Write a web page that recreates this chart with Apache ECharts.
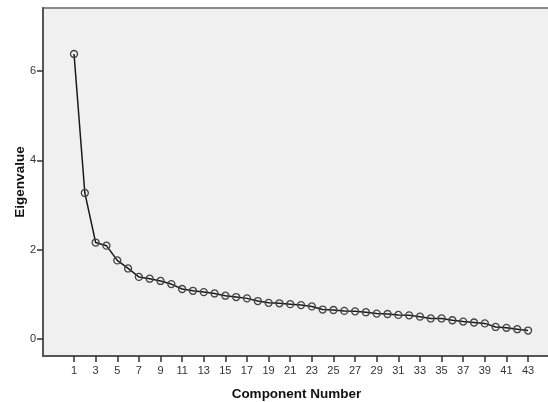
<!DOCTYPE html>
<html>
<head>
<meta charset="utf-8">
<script src="https://cdn.jsdelivr.net/npm/echarts@6/dist/echarts.min.js"></script>
<style>
html,body{margin:0;padding:0;background:#fff;}
#main{width:548px;height:402px;}
</style>
</head>
<body>
<div id="main"></div>
<script>
// component numbers and eigenvalues
var components = [];
for (var i = 1; i <= 43; i++) components.push(i);
var eigenvalues = [6.38,3.27,2.16,2.09,1.76,1.58,1.39,1.35,1.30,1.23,
	1.12,1.08,1.05,1.02,0.97,0.94,0.91,0.85,0.81,0.80,
	0.78,0.76,0.73,0.66,0.65,0.63,0.62,0.60,0.57,0.56,
	0.54,0.53,0.50,0.46,0.46,0.42,0.39,0.37,0.35,0.27,
	0.25,0.22,0.19];
var xTicks = [1,3,5,7,9,11,13,15,17,19,21,23,25,27,29,31,33,35,37,39,41,43];
var yTicks = [0,2,4,6];

var points = [];
for (var k = 0; k < components.length; k++) {
	points.push([components[k], eigenvalues[k]]);
}

var myChart = echarts.init(document.getElementById('main'));
myChart.setOption({
	animation: false,
	backgroundColor: '#FFFFFF',
	textStyle: {fontFamily: 'Liberation Sans, Arial, sans-serif'},
	grid: {
		left: 43, top: 8, right: -2, bottom: 46,
		outerBoundsMode: 'none',
		containLabel: false,
		show: true,
		backgroundColor: '#F0F0F0',
		borderColor: '#8C8C8C',
		borderWidth: 2
	},
	xAxis: {
		type: 'value',
		min: -1.87,
		max: 45.03,
		name: 'Component Number',
		nameLocation: 'middle',
		nameGap: 31,
		nameMoveOverlap: false,
		nameTextStyle: {fontSize: 13.5, fontWeight: 'bold', color: '#111'},
		splitLine: {show: false},
		axisLine: {show: true, onZero: false, lineStyle: {color: '#555', width: 2}},
		axisTick: {show: true, inside: false, length: 6, customValues: xTicks, lineStyle: {color: '#333', width: 1.5}},
		axisLabel: {customValues: xTicks, fontSize: 11, color: '#333', margin: 9}
	},
	yAxis: {
		type: 'value',
		min: -0.38,
		max: 7.41,
		name: 'Eigenvalue',
		nameLocation: 'middle',
		nameGap: 16,
		nameMoveOverlap: false,
		nameTextStyle: {fontSize: 13.5, fontWeight: 'bold', color: '#111'},
		splitLine: {show: false},
		axisLine: {show: true, onZero: false, lineStyle: {color: '#555', width: 2}},
		axisTick: {show: true, inside: false, length: 6, customValues: yTicks, lineStyle: {color: '#333', width: 1.5}},
		axisLabel: {customValues: yTicks, fontSize: 11, color: '#333', margin: 7}
	},
	series: [{
		type: 'line',
		data: points,
		symbol: 'circle',
		symbolSize: 7,
		showAllSymbol: true,
		lineStyle: {color: '#1A1A1A', width: 1.5},
		itemStyle: {color: 'rgba(0,0,0,0)', borderColor: '#444', borderWidth: 1.3}
	}]
});
</script>
</body>
</html>
